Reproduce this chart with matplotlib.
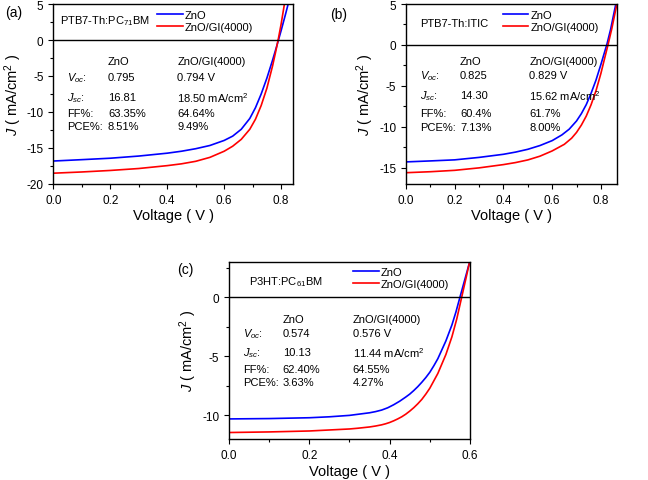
import matplotlib
matplotlib.use("Agg")
import matplotlib.pyplot as plt
from matplotlib.ticker import MultipleLocator

plt.rcParams["font.family"] = ["Liberation Sans", "DejaVu Sans"]
plt.rcParams["mathtext.fontset"] = "custom"
plt.rcParams["mathtext.rm"] = "Liberation Sans"
plt.rcParams["mathtext.it"] = "Liberation Sans:italic"
plt.rcParams["axes.unicode_minus"] = False

# (a) PTB7-Th:PC71BM
va_zno = [0, 0.1, 0.2, 0.3, 0.4, 0.45, 0.5, 0.55, 0.6, 0.63, 0.66, 0.69, 0.71, 0.73,
          0.75, 0.77, 0.785, 0.8, 0.815, 0.83]
ja_zno = [-16.81, -16.62, -16.42, -16.12, -15.72, -15.45, -15.1, -14.65, -13.95, -13.35,
          -12.4, -10.9, -9.4, -7.5, -5.3, -2.8, -0.8, 1.3, 3.5, 5.8]
va_gi = [0, 0.1, 0.2, 0.3, 0.4, 0.45, 0.5, 0.55, 0.6, 0.63, 0.66, 0.69, 0.71, 0.73,
         0.75, 0.77, 0.78, 0.79, 0.8, 0.81, 0.82]
ja_gi = [-18.5, -18.33, -18.12, -17.85, -17.45, -17.2, -16.85, -16.3, -15.45, -14.75,
         -13.8, -12.4, -11.0, -9.1, -6.7, -3.6, -1.8, 0.1, 2.2, 4.6, 7.2]

# (b) PTB7-Th:ITIC
vb_zno = [0, 0.1, 0.2, 0.3, 0.4, 0.45, 0.5, 0.55, 0.6, 0.64, 0.67, 0.7, 0.72, 0.74,
          0.76, 0.78, 0.8, 0.815, 0.825, 0.84, 0.86, 0.875]
jb_zno = [-14.3, -14.18, -14.05, -13.75, -13.37, -13.1, -12.76, -12.3, -11.7, -11.0,
          -10.3, -9.3, -8.4, -7.3, -5.9, -4.3, -2.4, -0.9, 0.1, 1.9, 4.8, 7.0]
vb_gi = [0, 0.1, 0.2, 0.3, 0.4, 0.45, 0.5, 0.55, 0.6, 0.65, 0.68, 0.7, 0.72, 0.74,
         0.76, 0.78, 0.8, 0.815, 0.83, 0.845, 0.865, 0.88]
jb_gi = [-15.62, -15.5, -15.33, -15.03, -14.63, -14.38, -14.06, -13.6, -12.96, -12.15,
         -11.4, -10.7, -9.8, -8.7, -7.3, -5.6, -3.5, -1.7, 0.1, 2.0, 4.9, 7.1]

# (c) P3HT:PC61BM
vc_zno = [0, 0.1, 0.2, 0.25, 0.3, 0.35, 0.365, 0.38, 0.395, 0.41, 0.425, 0.44, 0.45,
          0.46, 0.47, 0.48, 0.49, 0.5, 0.51, 0.52, 0.54, 0.555, 0.565, 0.575, 0.59, 0.605]
jc_zno = [-10.3, -10.27, -10.2, -10.12, -10.0, -9.78, -9.68, -9.55, -9.36, -9.1, -8.8,
          -8.45, -8.2, -7.9, -7.57, -7.2, -6.8, -6.35, -5.8, -5.2, -3.7, -2.35, -1.25,
          0.0, 1.85, 3.7]
vc_gi = [0, 0.1, 0.2, 0.3, 0.32, 0.35, 0.365, 0.38, 0.39, 0.4, 0.41, 0.42, 0.43, 0.44,
         0.45, 0.46, 0.47, 0.48, 0.49, 0.5, 0.52, 0.54, 0.555, 0.567, 0.578, 0.59, 0.605]
jc_gi = [-11.45, -11.4, -11.32, -11.15, -11.09, -10.98, -10.9, -10.8, -10.71, -10.6,
         -10.46, -10.3, -10.12, -9.9, -9.64, -9.35, -9.02, -8.65, -8.2, -7.7, -6.45,
         -4.85, -3.35, -1.85, -0.2, 1.6, 3.9]

row_names = [r"$V_{oc}$:", r"$J_{sc}$:", "FF%:", "PCE%:"]
tab_a_zno = ["0.795", "16.81", "63.35%", "8.51%"]
tab_a_gi = ["0.794 V", r"18.50 mA/cm$^2$", "64.64%", "9.49%"]
tab_b_zno = ["0.825", "14.30", "60.4%", "7.13%"]
tab_b_gi = ["0.829 V", r"15.62 mA/cm$^2$", "61.7%", "8.00%"]
tab_c_zno = ["0.574", "10.13", "62.40%", "3.63%"]
tab_c_gi = ["0.576 V", r"11.44 mA/cm$^2$", "64.55%", "4.27%"]

FS = 8


def panel(ax, v1, j1, v2, j2, xlim, ylim, ymaj, title, title_xy, leg_xy,
          head_y, row_y, col_x, c1, c2):
    ax.plot(v1, j1, color="#0000ff", lw=1.2, label="ZnO")
    ax.plot(v2, j2, color="#ff0000", lw=1.2, label="ZnO/GI(4000)")
    ax.axhline(0, color="black", lw=1.0)
    ax.set_xlim(*xlim); ax.set_ylim(*ylim)
    ax.xaxis.set_major_locator(MultipleLocator(0.2))
    ax.xaxis.set_minor_locator(MultipleLocator(0.1))
    ax.yaxis.set_major_locator(MultipleLocator(ymaj))
    ax.yaxis.set_minor_locator(MultipleLocator(ymaj / 2))
    ax.tick_params(which="both", direction="out", labelsize=8.5, width=0.8)
    ax.tick_params(which="major", length=3.5)
    ax.tick_params(which="minor", length=2)
    ax.xaxis.set_major_formatter(matplotlib.ticker.FormatStrFormatter("%.1f"))
    for s in ax.spines.values():
        s.set_linewidth(1.0)
    ax.set_xlabel("Voltage ( V )", fontsize=10.5, labelpad=2)
    ax.set_ylabel(r"$J$ ( mA/cm$^2$ )", fontsize=10.5, labelpad=2)
    ax.text(*title_xy, title, fontsize=FS, va="center")
    ax.legend(loc="upper left", bbox_to_anchor=leg_xy, frameon=False, fontsize=FS,
              handlelength=2.3, handletextpad=0.15, borderpad=0, borderaxespad=0,
              labelspacing=0.2)
    ax.text(col_x[1], head_y, "ZnO", fontsize=FS, va="center")
    ax.text(col_x[2], head_y, "ZnO/GI(4000)", fontsize=FS, va="center")
    for name, a, b, y in zip(row_names, c1, c2, row_y):
        ax.text(col_x[0], y, name, fontsize=FS, va="center")
        ax.text(col_x[1], y, a, fontsize=FS, va="center")
        ax.text(col_x[2], y, b, fontsize=FS, va="center")


fig = plt.figure(figsize=(6.48, 4.81), dpi=100)

ax_a = fig.add_axes([0.0823, 0.6154, 0.3704, 0.3742])
panel(ax_a, va_zno, ja_zno, va_gi, ja_gi, (0, 0.843), (-20, 5), 5,
      r"PTB7-Th:PC$_{71}$BM", (0.024, 2.8), (0.432, 0.966),
      -2.96, [-5.1, -7.9, -10.2, -12.0], [0.047, 0.192, 0.435],
      tab_a_zno, tab_a_gi)

ax_b = fig.add_axes([0.6265, 0.6154, 0.3252, 0.3742])
panel(ax_b, vb_zno, jb_zno, vb_gi, jb_gi, (0, 0.865), (-17, 5), 5,
      "PTB7-Th:ITIC", (0.057, 2.65), (0.46, 0.966),
      -2.0, [-3.67, -6.1, -8.36, -10.0], [0.057, 0.222, 0.506],
      tab_b_zno, tab_b_gi)

ax_c = fig.add_axes([0.3534, 0.0852, 0.3719, 0.3686])
panel(ax_c, vc_zno, jc_zno, vc_gi, jc_gi, (0, 0.6), (-12, 3), 5,
      r"P3HT:PC$_{61}$BM", (0.05, 1.4), (0.516, 0.971),
      -1.82, [-3.0, -4.62, -6.08, -7.2], [0.036, 0.134, 0.308],
      tab_c_zno, tab_c_gi)

fig.text(5 / 648, 1 - 13 / 481, "(a)", fontsize=10, va="center")
fig.text(330 / 648, 1 - 15 / 481, "(b)", fontsize=10, va="center")
fig.text(177 / 648, 1 - 270 / 481, "(c)", fontsize=10, va="center")

fig.savefig("out.png", dpi=100)
